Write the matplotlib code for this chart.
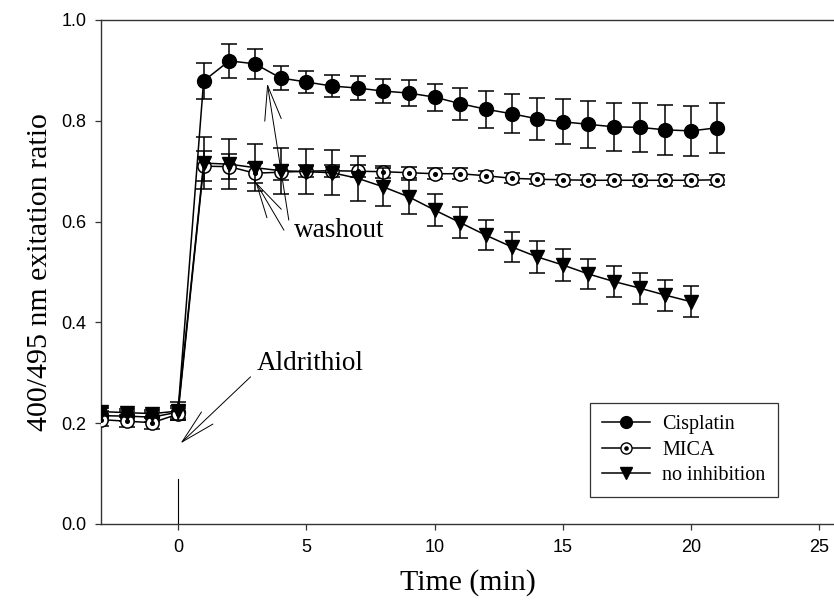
import matplotlib
matplotlib.use("Agg")
import matplotlib.pyplot as plt
from matplotlib.legend_handler import HandlerTuple

# Time points (min)
time_cis = [-3, -2, -1, 0, 1, 2, 3, 4, 5, 6, 7, 8, 9, 10, 11, 12, 13, 14, 15, 16, 17, 18, 19, 20, 21]
time_mica = [-3, -2, -1, 0, 1, 2, 3, 4, 5, 6, 7, 8, 9, 10, 11, 12, 13, 14, 15, 16, 17, 18, 19, 20, 21]
time_noinh = [-3, -2, -1, 0, 1, 2, 3, 4, 5, 6, 7, 8, 9, 10, 11, 12, 13, 14, 15, 16, 17, 18, 19, 20]

# 400/495 excitation ratio
cis = [0.215, 0.214, 0.212, 0.222, 0.879, 0.919, 0.913, 0.885, 0.877, 0.869, 0.865, 0.859,
       0.855, 0.847, 0.834, 0.823, 0.814, 0.804, 0.798, 0.793, 0.788, 0.787, 0.782, 0.780, 0.786]
cis_err = [0.010, 0.010, 0.010, 0.012, 0.035, 0.034, 0.030, 0.024, 0.022, 0.022, 0.023, 0.023,
           0.025, 0.027, 0.032, 0.037, 0.039, 0.042, 0.045, 0.047, 0.048, 0.049, 0.049, 0.049, 0.050]

mica = [0.207, 0.204, 0.201, 0.218, 0.710, 0.709, 0.696, 0.698, 0.700, 0.701, 0.700, 0.699,
        0.697, 0.695, 0.695, 0.691, 0.686, 0.684, 0.683, 0.682, 0.682, 0.682, 0.682, 0.682, 0.683]
mica_err = [0.012, 0.012, 0.012, 0.012, 0.030, 0.025, 0.020, 0.015, 0.012, 0.012, 0.012, 0.012,
            0.011, 0.011, 0.011, 0.010, 0.010, 0.010, 0.010, 0.010, 0.010, 0.011, 0.011, 0.011, 0.010]

noinh = [0.223, 0.221, 0.219, 0.224, 0.716, 0.714, 0.707, 0.701, 0.699, 0.697, 0.686, 0.669,
         0.649, 0.623, 0.598, 0.573, 0.550, 0.530, 0.514, 0.496, 0.481, 0.468, 0.454, 0.441]
noinh_err = [0.008, 0.008, 0.008, 0.018, 0.052, 0.050, 0.047, 0.046, 0.045, 0.045, 0.045, 0.038,
             0.033, 0.032, 0.031, 0.030, 0.030, 0.031, 0.031, 0.030, 0.031, 0.031, 0.031, 0.031]

serif = "Liberation Serif"
sans = "Liberation Sans"

fig = plt.figure(figsize=(8.34, 6.11), dpi=100)
ax = fig.add_axes([101 / 834, 87 / 611, 733 / 834, 504 / 611])

eb_kw = dict(color="black", linewidth=1.1, elinewidth=1.1, capsize=5.5, capthick=1.1)

ax.errorbar(time_cis, cis, yerr=cis_err, marker="o", markersize=10,
            markerfacecolor="black", markeredgecolor="black", zorder=3, **eb_kw)
ax.errorbar(time_mica, mica, yerr=mica_err, marker="o", markersize=9.5,
            markerfacecolor="white", markeredgecolor="black", markeredgewidth=1.1,
            zorder=4, **eb_kw)
ax.plot(time_mica, mica, linestyle="none", marker="o", markersize=2.6,
        color="black", zorder=4.5)
ax.errorbar(time_noinh, noinh, yerr=noinh_err, marker="v", markersize=10.5,
            markerfacecolor="black", markeredgecolor="black", zorder=5, **eb_kw)

# Aldrithiol addition marker
ax.plot([0, 0], [0, 0.09], color="black", linewidth=0.8)

arrow = dict(arrowstyle="->,head_length=2.5,head_width=0.6", color="black",
             linewidth=0.7, mutation_scale=10, shrinkA=0, shrinkB=0)
ax.annotate("", xy=(0.1, 0.160), xytext=(2.83, 0.292), arrowprops=arrow)
ax.text(3.07, 0.306, "Aldrithiol", family=serif, fontsize=19.5, va="baseline")

ax.annotate("", xy=(3.02, 0.679), xytext=(4.13, 0.583), arrowprops=arrow)
ax.annotate("", xy=(3.48, 0.874), xytext=(4.32, 0.603), arrowprops=arrow)
ax.text(4.52, 0.570, "washout", family=serif, fontsize=19.5, va="baseline")

ax.set_xlim(-3, 25.57)
ax.set_ylim(0, 1.0)
ax.set_xticks([0, 5, 10, 15, 20, 25])
ax.set_yticks([0.0, 0.2, 0.4, 0.6, 0.8, 1.0])
ax.set_yticklabels(["0.0", "0.2", "0.4", "0.6", "0.8", "1.0"])
for lab in ax.get_xticklabels() + ax.get_yticklabels():
    lab.set_family(sans)
    lab.set_fontsize(13)
ax.tick_params(direction="out", length=4.5, width=0.9, color="#333333", pad=6)

ax.spines["right"].set_visible(False)
for s in ["left", "top", "bottom"]:
    ax.spines[s].set_linewidth(1.0)
    ax.spines[s].set_color("#333333")

ax.set_xlabel("Time (min)", family=serif, fontsize=21.5, labelpad=10)
ax.set_ylabel("400/495 nm exitation ratio", family=serif, fontsize=21.5, labelpad=6)

# legend with dotted-circle MICA marker
h_cis = plt.Line2D([], [], color="black", linewidth=1.1, marker="o", markersize=8.5)
h_mica = plt.Line2D([], [], color="black", linewidth=1.1, marker="o", markersize=8,
                    markerfacecolor="white", markeredgecolor="black")
h_mica_dot = plt.Line2D([], [], linestyle="none", marker="o", markersize=2.3, color="black")
h_noinh = plt.Line2D([], [], color="black", linewidth=1.1, marker="v", markersize=9)
leg = ax.legend([h_cis, (h_mica, h_mica_dot), h_noinh], ["Cisplatin", "MICA", "no inhibition"],
                handler_map={tuple: HandlerTuple(ndivide=1)},
                loc="lower left", bbox_to_anchor=(0.667, 0.054),
                prop={"family": serif, "size": 14.5}, handlelength=2.4,
                fancybox=False, framealpha=1, edgecolor="#333333",
                borderpad=0.6, labelspacing=0.3, handletextpad=0.6, borderaxespad=0)
leg.get_frame().set_linewidth(0.9)

fig.savefig("out.png", dpi=100)
